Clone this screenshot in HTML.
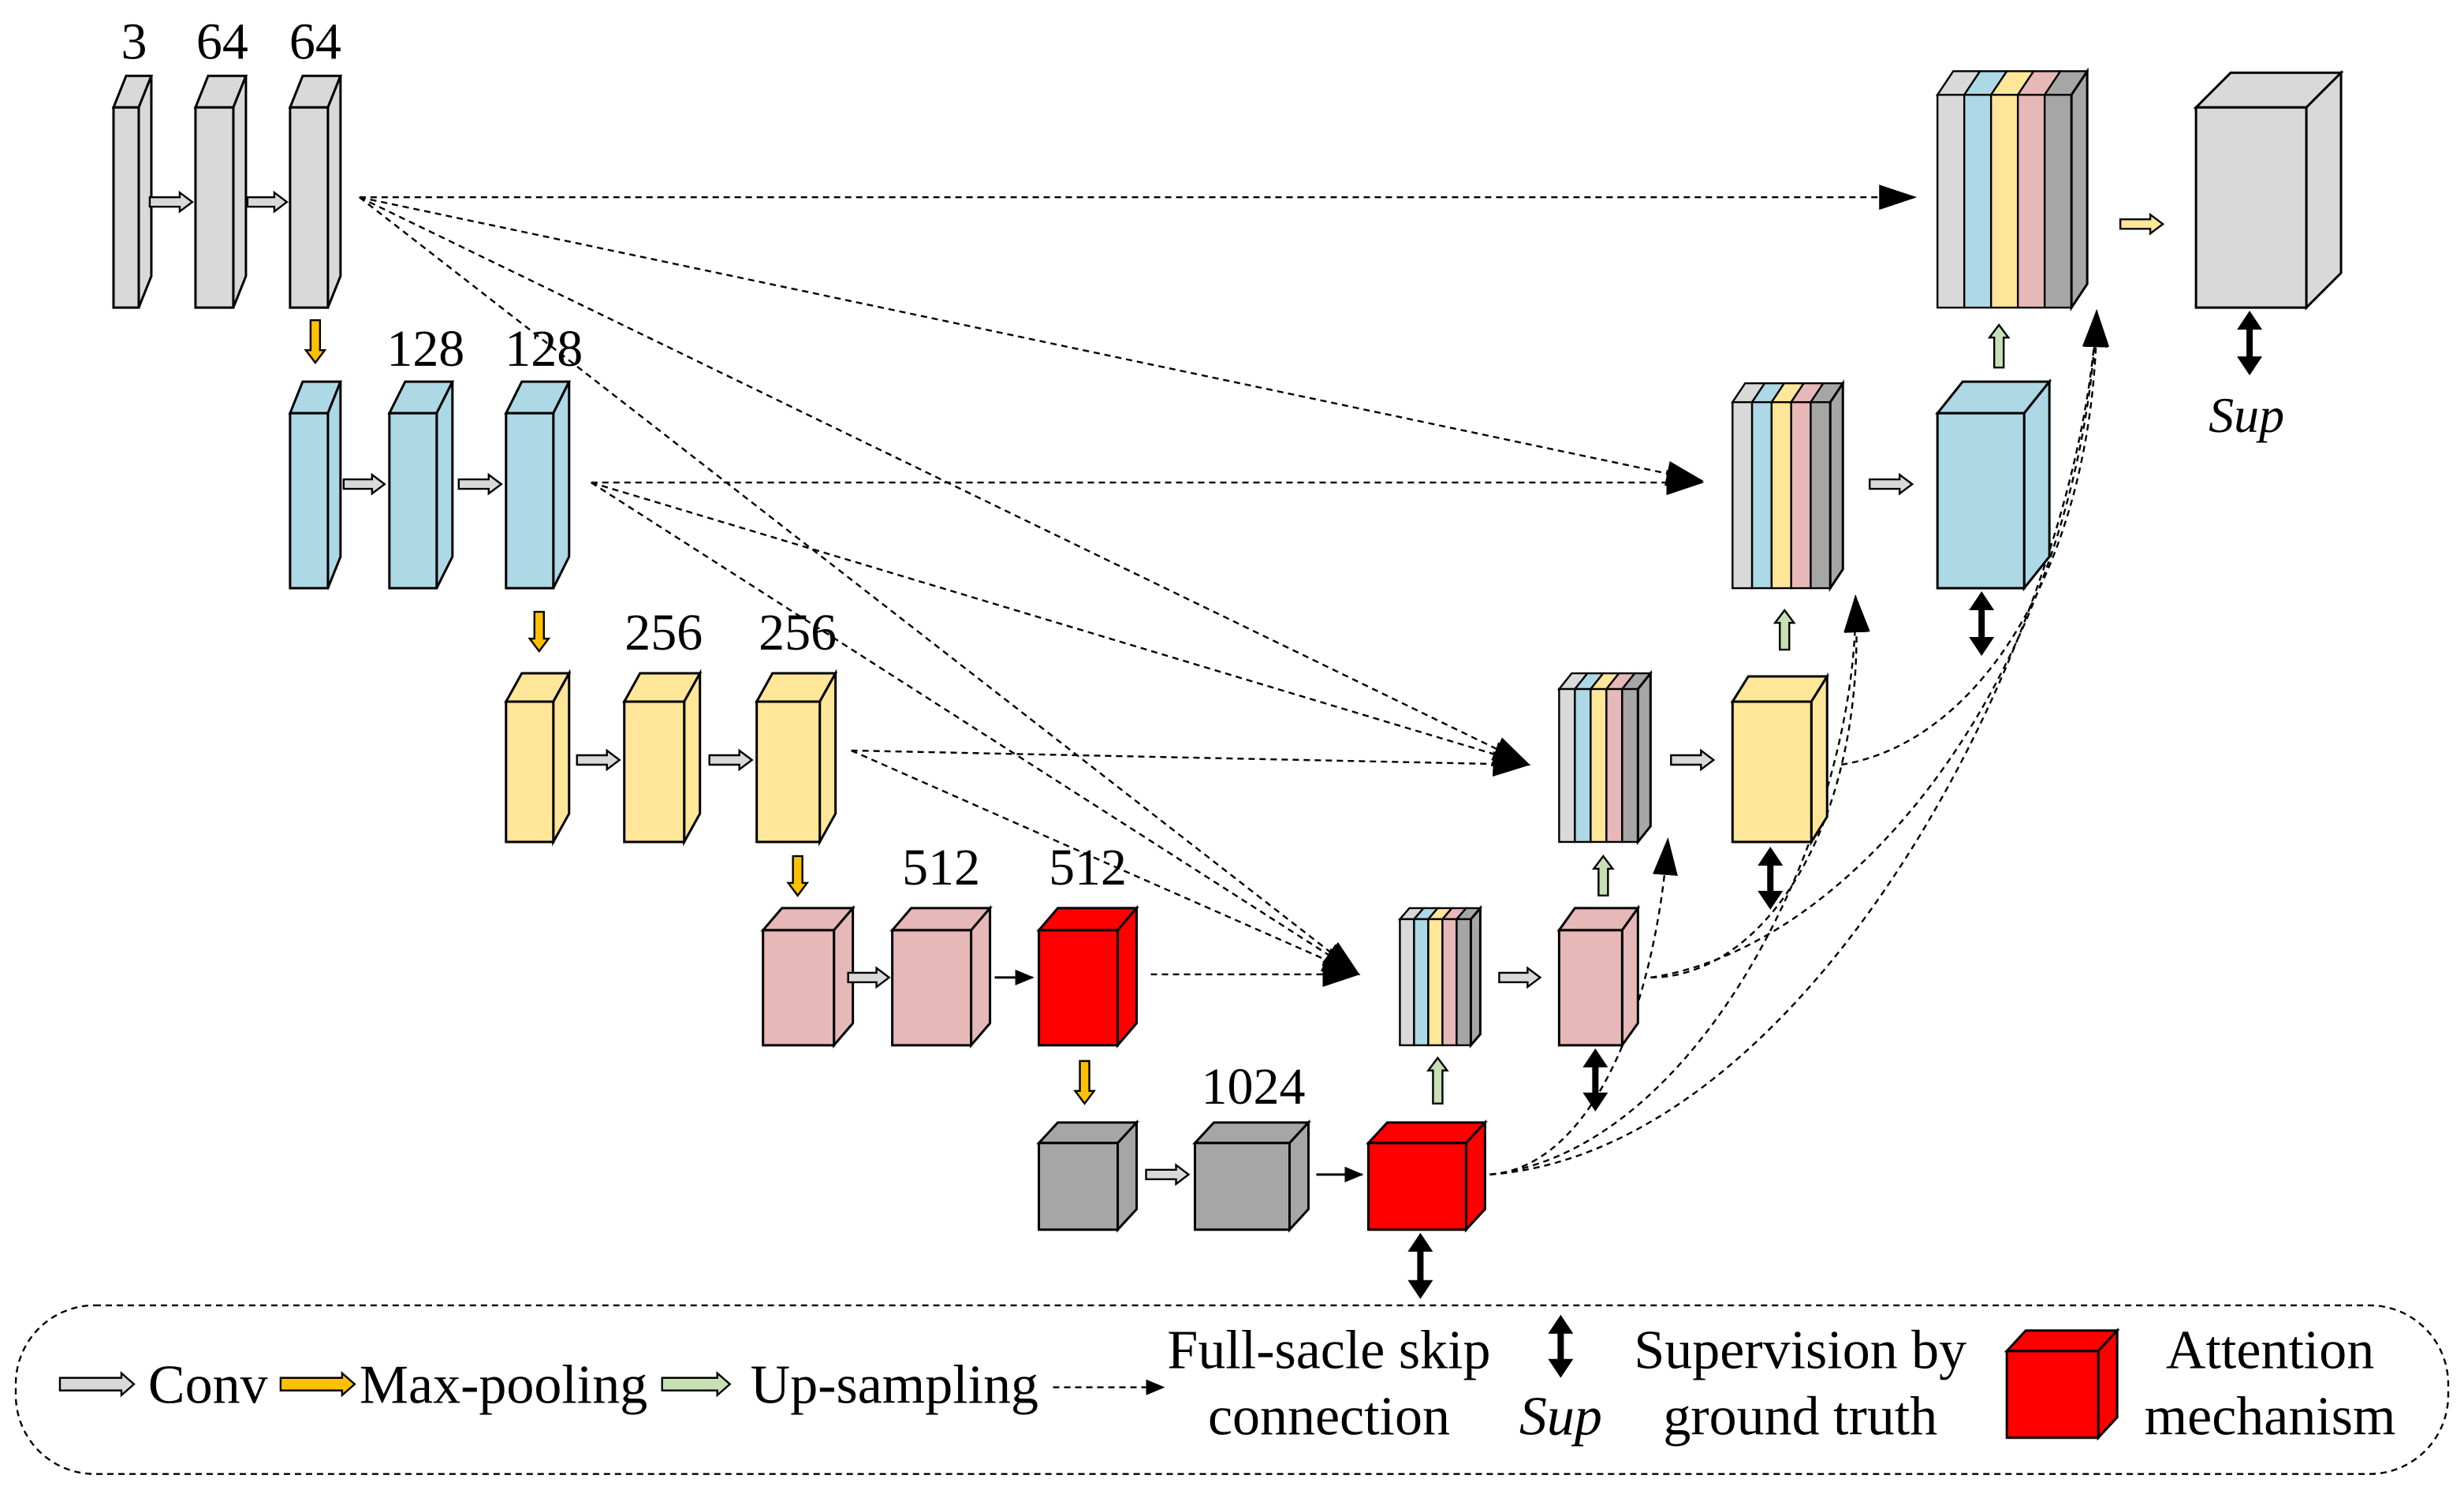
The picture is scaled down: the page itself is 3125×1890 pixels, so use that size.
<!DOCTYPE html>
<html><head><meta charset="utf-8"><style>
html,body{margin:0;padding:0;background:#fff;}
svg{display:block;}
text{font-family:"Liberation Serif",serif;fill:#000;}
</style></head><body>
<svg id="s" width="3125" height="1890" viewBox="0 0 1563 945" xmlns="http://www.w3.org/2000/svg">
<defs>
<marker id="ah" markerWidth="12" markerHeight="10" refX="11" refY="5" orient="auto" markerUnits="userSpaceOnUse"><path d="M0,0 L12,5 L0,10 Z" fill="#000"/></marker>
<marker id="ahb" markerWidth="24" markerHeight="16" refX="23" refY="8" orient="auto" markerUnits="userSpaceOnUse"><path d="M0,0 L24,8 L0,16 Z" fill="#000"/></marker>
</defs>
<g id="g"></g>
</svg>
<script>
const g=document.getElementById('g');let out='';
const C={g:'#d9d9d9',b:'#add8e6',y:'#ffe699',p:'#e6b8b7',d:'#a6a6a6',r:'#ff0000'};
function cube(x,y,w,h,dx,dy,c){
 out+=`<polygon points="${x},${y} ${x+dx},${y+dy} ${x+w+dx},${y+dy} ${x+w},${y}" fill="${c}" stroke="#000" stroke-width="1.5"/>`;
 out+=`<polygon points="${x+w},${y} ${x+w+dx},${y+dy} ${x+w+dx},${y+h+dy} ${x+w},${y+h}" fill="${c}" stroke="#000" stroke-width="1.5"/>`;
 out+=`<rect x="${x}" y="${y}" width="${w}" height="${h}" fill="${c}" stroke="#000" stroke-width="1.5"/>`;
}
function striped(x,y,w,h,dx,dy){
 const cs=[C.g,C.b,C.y,C.p,C.d];const sw=w/5;
 cs.forEach((c,i)=>{const a=x+i*sw;
  out+=`<polygon points="${a},${y} ${a+dx},${y+dy} ${a+sw+dx},${y+dy} ${a+sw},${y}" fill="${c}" stroke="#000" stroke-width="1.2"/>`;
  out+=`<rect x="${a}" y="${y}" width="${sw}" height="${h}" fill="${c}" stroke="#000" stroke-width="1.2"/>`;});
 out+=`<polygon points="${x+w},${y} ${x+w+dx},${y+dy} ${x+w+dx},${y+h+dy} ${x+w},${y+h}" fill="${C.d}" stroke="#000" stroke-width="1.5"/>`;
}
function ha(x1,y,x2,c,t){t=t||3;const hw=t+3,hl=8;
 out+=`<polygon points="${x1},${y-t} ${x2-hl},${y-t} ${x2-hl},${y-hw} ${x2},${y} ${x2-hl},${y+hw} ${x2-hl},${y+t} ${x1},${y+t}" fill="${c}" stroke="#000" stroke-width="1.2"/>`;}
function va(x,y1,y2,c){const t=3,hw=6,s=y2>y1?1:-1,hl=8*s;
 out+=`<polygon points="${x-t},${y1} ${x-t},${y2-hl} ${x-hw},${y2-hl} ${x},${y2} ${x+hw},${y2-hl} ${x+t},${y2-hl} ${x+t},${y1}" fill="${c}" stroke="#000" stroke-width="1.2"/>`;}
function T(x,y,s,sz,it,anc){out+=`<text x="${x}" y="${y}" font-size="${sz||33}" text-anchor="${anc||'middle'}"${it?' font-style="italic"':''}>${s}</text>`;}
function dl(d,big){out+=`<path d="${d}" fill="none" stroke="#000" stroke-width="1.2" stroke-dasharray="4,3" marker-end="url(#${big?'ahb':'ah'})"/>`;}
function da(x,y1,y2){out+=`<line x1="${x}" y1="${y1+8}" x2="${x}" y2="${y2-8}" stroke="#000" stroke-width="4"/><polygon points="${x-8},${y1+12} ${x},${y1} ${x+8},${y1+12}" fill="#000"/><polygon points="${x-8},${y2-12} ${x},${y2} ${x+8},${y2-12}" fill="#000"/>`;}
dl('M228,125 L1215,125',1);dl('M228,125 L1080,305',1);dl('M228,125 L970,485',1);dl('M228,125 L862,618',1);
dl('M375,306 L1080,306',1);dl('M375,306 L970,485',1);dl('M375,306 L862,618',1);
dl('M540,476 L970,485',1);dl('M540,476 L862,618',1);dl('M730,618 L862,618',1);
dl('M945,745 C1010,740 1050,640 1058,532',1);
dl('M945,745 C1080,730 1180,520 1177,378',1);
dl('M945,745 C1150,730 1320,400 1330,197',1);
dl('M1047,620 C1120,620 1185,520 1177,378',1);
dl('M1047,620 C1180,600 1320,420 1330,197',1);
dl('M1168,485 C1260,470 1330,350 1330,197',1);
cube(72,68,16,127,8,-20,C.g);cube(124,68,24,127,8,-20,C.g);cube(184,68,24,127,8,-20,C.g);
T(85,37,'3');T(141,37,'64');T(200,37,'64');
ha(95,128,122,C.g);ha(157,128,182,C.g);va(200,203,230,'#ffc000');
cube(184,262,24,111,8,-20,C.b);cube(247,262,30,111,10,-20,C.b);cube(321,262,30,111,10,-20,C.b);
T(270,232,'128');T(345,232,'128');
ha(218,307,244,C.g);ha(291,307,318,C.g);va(342,388,413,'#ffc000');
cube(321,445,30,89,10,-18,C.y);cube(396,445,38,89,10,-18,C.y);cube(480,445,40,89,10,-18,C.y);
T(421,412,'256');T(506,412,'256');
ha(366,482,393,C.g);ha(450,482,477,C.g);va(506,543,568,'#ffc000');
cube(484,590,45,73,12,-14,C.p);cube(566,590,50,73,12,-14,C.p);cube(659,590,50,73,12,-14,C.r);
T(597,561,'512');T(690,561,'512');
ha(538,620,564,C.g);out+='<line x1="631" y1="620" x2="655" y2="620" stroke="#000" stroke-width="1.5" marker-end="url(#ah)"/>';
va(688,673,700,'#ffc000');
cube(659,725,50,55,12,-13,C.d);cube(758,725,60,55,12,-13,C.d);cube(868,725,62,55,12,-13,C.r);
T(795,700,'1024');
ha(727,745,754,C.g);out+='<line x1="835" y1="745" x2="864" y2="745" stroke="#000" stroke-width="1.5" marker-end="url(#ah)"/>';
striped(888,583,45,80,6,-7);ha(951,620,977,C.g);
va(912,700,671,'#c6e0b4');
cube(989,590,40,73,10,-14,C.p);va(1017,568,543,'#c6e0b4');
striped(989,437,50,97,8,-10);ha(1060,482,1087,C.g);
cube(1099,445,50,89,10,-16,C.y);va(1132,412,387,'#c6e0b4');
striped(1099,255,62,118,8,-12);ha(1186,307,1213,C.g);
cube(1229,262,55,111,16,-20,C.b);va(1268,233,206,'#c6e0b4');
striped(1229,60,85,135,10,-15);ha(1345,142,1372,'#ffe699');
cube(1393,68,70,127,22,-22,C.g);
da(901,782,824);da(1012,665,705);da(1123,537,577);da(1257,375,416);da(1427,197,238);
T(1425,274,'Sup',32,1);
out+='<rect x="10" y="828" width="1543" height="107" rx="50" fill="none" stroke="#000" stroke-width="1.2" stroke-dasharray="4,3"/>';
ha(38,878,85,C.g,4);T(94,890,'Conv',35,0,'start');
ha(178,878,225,'#ffc000',4);T(228,890,'Max-pooling',35,0,'start');
ha(420,878,463,'#c6e0b4',4);T(476,890,'Up-sampling',35,0,'start');
dl('M668,880 L738,880');
T(843,868,'Full-sacle skip',35);T(843,910,'connection',35);
da(990,834,874);T(990,910,'Sup',35,1);
T(1142,868,'Supervision by',35);T(1142,910,'ground truth',35);
cube(1273,857,58,55,12,-13,C.r);
T(1440,868,'Attention',35);T(1440,910,'mechanism',35);
g.innerHTML=out;
</script>
</body></html>
